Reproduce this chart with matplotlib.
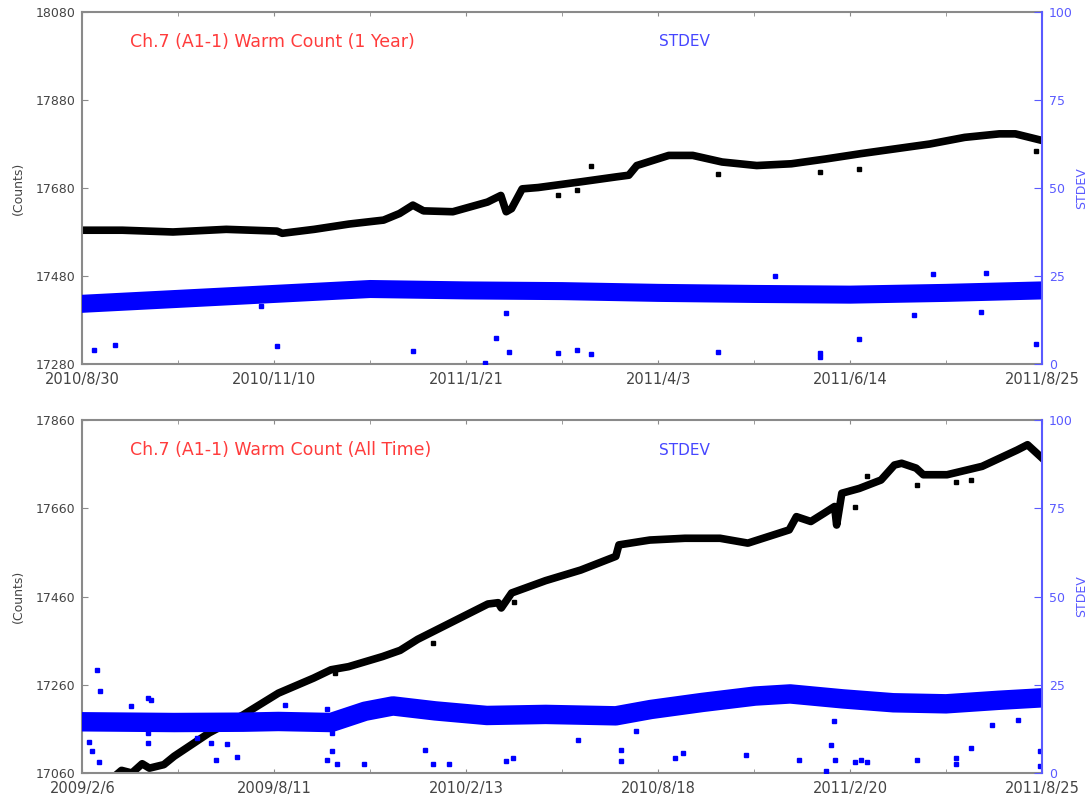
import matplotlib
matplotlib.use("Agg")
import matplotlib.pyplot as plt
import numpy as np

# ---- 1 year panel (days since 2010/8/30) ----
yr_days = [0, 15, 34, 54, 73, 75, 87, 100, 113, 119, 124, 128, 139, 152, 157, 159, 161, 165, 171,
           187, 200, 205, 208, 220, 229, 240, 253, 266, 279, 292, 305, 318, 331, 344, 350, 360]
yr_counts = [17584, 17584, 17580, 17586, 17582, 17577, 17586, 17598, 17607, 17622, 17641, 17628,
             17626, 17648, 17663, 17626, 17633, 17678, 17681, 17694, 17705, 17709, 17731, 17754,
             17754, 17739, 17731, 17735, 17746, 17758, 17769, 17780, 17795, 17803, 17803, 17788]
yr_out_days = [178.5, 185.4, 191, 238.6, 276.7, 291.4, 357.7]
yr_out_counts = [17663, 17676, 17730, 17712, 17716, 17724, 17763]

yr_sd_days = [0, 36, 72, 108, 144, 180, 216, 252, 288, 324, 360]
yr_sd = [17.1, 18.5, 19.9, 21.3, 20.9, 20.7, 20.2, 19.9, 19.7, 20.2, 20.9]
yr_sd_out_days = [4.4, 12.3, 67, 73, 124, 151, 155, 159, 160, 178.5, 185.4, 191, 238.6, 276.7,
                  276.7, 291.4, 312, 337, 357.7, 319, 339, 260]
yr_sd_out = [4.1, 5.4, 16.6, 5.1, 3.7, 0.4, 7.4, 14.5, 3.5, 3.0, 3.9, 2.7, 3.5, 3.0,
             2.1, 7.0, 14.0, 14.8, 5.8, 25.6, 25.8, 25.1]

yr_labels = ["2010/8/30", "2010/11/10", "2011/1/21", "2011/4/3", "2011/6/14", "2011/8/25"]

# ---- all time panel (days since 2009/2/6) ----
all_days = [31, 38, 48, 58, 65, 79, 89, 123, 156, 190, 224, 241, 258, 291, 308, 325, 359, 393,
            403, 406, 416, 449, 483, 517, 520, 550, 584, 618, 645, 685, 692, 706, 719, 729, 731,
            736, 753, 774, 787, 794, 808, 815, 838, 872, 906, 916, 930]
all_counts = [17052, 17066, 17060, 17081, 17071, 17079, 17098, 17151, 17192, 17241, 17275, 17294,
              17301, 17324, 17338, 17363, 17403, 17443, 17446, 17434, 17468, 17496, 17520, 17551,
              17577, 17588, 17592, 17592, 17581, 17611, 17641, 17630, 17649, 17664, 17622, 17694,
              17705, 17724, 17758, 17762, 17751, 17736, 17736, 17755, 17792, 17804, 17774]
all_out_days = [760, 748.7, 809, 847, 861, 340, 418, 245]
all_out_counts = [17732, 17662, 17713, 17720, 17724, 17354, 17447, 17286]

all_sd_days = [5, 89, 156, 190, 241, 274, 301, 342, 392, 449, 517, 551, 601, 652, 686, 737,
               786, 837, 888, 930]
all_sd = [14.5, 14.3, 14.4, 14.6, 14.3, 17.5, 19.0, 17.6, 16.3, 16.6, 16.2, 18.0, 20.0, 21.8,
          22.4, 21.0, 19.9, 19.6, 20.6, 21.3]
all_sd_out_days = [6.2, 9.6, 16.3, 14, 17, 63.5, 66.3, 63.5, 63.5, 110.8, 124.3, 129.3, 140.1,
                   149.5, 46.7, 196.8, 237.2, 242.3, 237.2, 242.3, 246.7, 273.3, 332.3, 340,
                   355.3, 410.9, 417.6, 480.4, 521.8, 521.8, 536.4, 574.8, 582.5, 643, 694.8,
                   720.8, 725.8, 728.5, 729.8, 748.7, 754.5, 760, 808.4, 847, 847, 861, 881.5,
                   907, 928, 928]
all_sd_out = [8.9, 6.3, 3.1, 29.3, 23.1, 21.2, 20.6, 8.4, 11.2, 9.8, 8.4, 3.7, 8.1,
              4.4, 18.9, 19.2, 18.2, 11.2, 3.7, 6.1, 2.6, 2.6, 6.5, 2.6,
              2.6, 3.3, 4.2, 9.3, 6.4, 3.3, 11.9, 4.2, 5.6, 5.1, 3.7,
              0.7, 7.8, 14.7, 3.7, 3.1, 3.7, 3.0, 3.7, 4.2, 2.5, 7.0, 13.7,
              15.0, 6.3, 2.1]

all_labels = ["2009/2/6", "2009/8/11", "2010/2/13", "2010/8/18", "2011/2/20", "2011/8/25"]

GRAY = "#8a8a8a"
TXT = "#444444"
BLUE = "#0000ff"
LBLUE = "#5a5aff"


def draw_panel(ax, days, counts, out_d, out_c, sd_d, sd, sdo_d, sdo,
               ylim, xmax, labels, title, sd_lw):
    ax.plot(days, counts, color="black", lw=5.5, solid_joinstyle="round", zorder=2)
    ax.plot(out_d, out_c, "s", color="black", ms=2.5, zorder=2)
    ax.set_xlim(0, xmax)
    ax.set_ylim(*ylim)
    ax.set_yticks(np.arange(ylim[0], ylim[1] + 1, 200))
    step = xmax / 5
    ax.set_xticks(np.arange(0, xmax + 1, step))
    ax.set_xticklabels(labels)
    ax.set_xticks(np.arange(step / 2, xmax, step), minor=True)
    ax.tick_params(axis="x", which="both", direction="in", top=True, length=3,
                   color=GRAY, labelsize=10.5, labelcolor=TXT, pad=6)
    ax.tick_params(axis="y", direction="in", length=4, color=GRAY,
                   labelsize=9, labelcolor=TXT, pad=5)
    for s in ["left", "top", "bottom"]:
        ax.spines[s].set_color(GRAY)
        ax.spines[s].set_linewidth(1.5)
    ax.spines["right"].set_visible(False)
    ax.text(0.05, 0.915, title, transform=ax.transAxes, color="#ff3c3c",
            fontsize=12.5, va="center", ha="left")
    ax.text(0.601, 0.915, "STDEV", transform=ax.transAxes, color="#4646ff",
            fontsize=11, va="center", ha="left")

    ax2 = ax.twinx()
    ax2.plot(sd_d, sd, color=BLUE, lw=sd_lw, solid_joinstyle="round", zorder=1)
    ax2.plot(sdo_d, sdo, "s", color=BLUE, ms=2.5)
    ax2.set_ylim(0, 100)
    ax2.set_yticks([0, 25, 50, 75, 100])
    ax2.tick_params(axis="y", direction="in", length=6, color=LBLUE,
                    labelsize=9, labelcolor=LBLUE, pad=5)
    for s in ["left", "top", "bottom"]:
        ax2.spines[s].set_visible(False)
    ax2.spines["right"].set_color(LBLUE)
    ax2.spines["right"].set_linewidth(1.5)
    return ax2


fig = plt.figure(figsize=(10.92, 7.97), dpi=100)
ax_top = fig.add_axes([0.0754, 0.5433, 0.8788, 0.4417])
ax_bot = fig.add_axes([0.0754, 0.0301, 0.8788, 0.4429])

draw_panel(ax_top, yr_days, yr_counts, yr_out_days, yr_out_counts,
           yr_sd_days, yr_sd, yr_sd_out_days, yr_sd_out,
           (17280, 18080), 360, yr_labels, "Ch.7 (A1-1) Warm Count (1 Year)", 13)
draw_panel(ax_bot, all_days, all_counts, all_out_days, all_out_counts,
           all_sd_days, all_sd, all_sd_out_days, all_sd_out,
           (17060, 17860), 930, all_labels, "Ch.7 (A1-1) Warm Count (All Time)", 14)

for ax in (ax_top, ax_bot):
    pos = ax.get_position()
    yc = pos.y0 + pos.height / 2
    fig.text(18 / 1092, yc, "(Counts)", rotation=90, ha="center", va="center",
             fontsize=9, color=TXT)
    fig.text(1082 / 1092, yc, "STDEV", rotation=90, ha="center", va="center",
             fontsize=9, color=LBLUE)

fig.savefig("out.png", dpi=100)
